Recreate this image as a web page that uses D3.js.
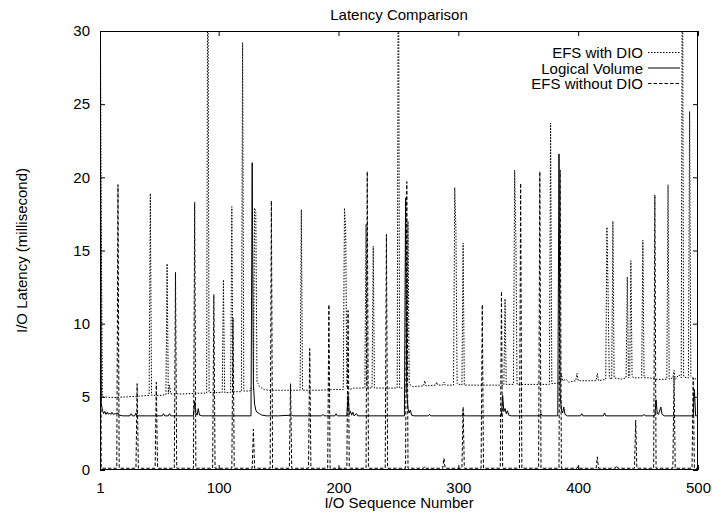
<!DOCTYPE html>
<html>
<head>
<meta charset="utf-8">
<script src="https://cdn.jsdelivr.net/npm/d3@7"></script>
<style>
  body { margin: 0; background: #fff; }
  svg text { font-family: "Liberation Sans", Arial, Helvetica, sans-serif; fill: #000; }
</style>
</head>
<body>
<svg id="chart" width="712" height="512"></svg>
<script>
// Axis ticks
const xTicks = [1, 100, 200, 300, 400, 500];
const yTicks = [0, 5, 10, 15, 20, 25, 30];
const seriesNames = ["EFS with DIO", "Logical Volume", "EFS without DIO"];

// [I/O sequence number, latency in ms] vertices of each trace
const efsWithDio = [
  [1,38],[2,17.4],[3,5.0],[12,4.95],[24,5.0],[34,5.05],[42,5.1],[43,18.9],[44,5.1],[52,5.1],
  [56,5.15],[57,14.1],[58,5.2],[59,5.8],[60,5.2],[72,5.2],[84,5.25],[90,5.25],[91,40],[92,5.3],
  [103,5.3],[104,13.0],[105,5.3],[110,5.3],[111,18.0],[112,5.35],[119,5.35],[120,29.2],[121,5.4],
  [126,5.4],[127,5.6],[129,5.5],[130,17.9],[131,17.6],[132,6.0],[133,5.9],[134,5.7],[136,5.6],
  [138,5.5],[142,5.45],[155,5.45],[168,5.45],[169,17.8],[170,5.45],[185,5.45],[196,5.5],[204,5.5],
  [205,17.9],[206,16.5],[207,5.7],[209,5.5],[213,5.6],[222,5.6],[223,16.8],[224,5.6],[228,5.6],
  [229,15.3],[230,5.6],[240,5.6],[249,5.6],[250,40],[251,5.6],[257,5.6],[258,17.0],[259,6.0],
  [260,5.8],[262,5.7],[271,5.75],[272,6.1],[273,5.75],[281,5.8],[282,6.0],[283,5.8],[287,5.8],
  [288,6.0],[289,5.8],[296,5.8],[297,19.3],[298,16.4],[299,5.9],[303,5.8],[304,15.5],[305,5.8],
  [315,5.8],[325,5.8],[338,5.8],[339,11.7],[340,5.85],[346,5.85],[347,20.5],[348,16.0],[349,5.85],
  [360,5.85],[376,5.85],[377,23.7],[378,5.9],[385,5.95],[386,6.6],[387,6.1],[390,6.2],[392,6.0],
  [398,6.1],[399,6.6],[400,6.1],[408,6.1],[415,6.1],[416,6.6],[417,6.1],[423,6.2],[424,16.6],
  [425,12.0],[426,6.3],[428,6.2],[429,17.0],[430,6.3],[436,6.2],[440,6.3],[441,13.2],[442,6.3],
  [443,6.4],[444,14.3],[445,6.5],[446,6.3],[453,6.3],[454,15.7],[455,6.3],[460,6.3],[465,6.2],
  [470,6.2],[474,6.2],[475,19.5],[476,6.2],[479,6.3],[480,6.8],[481,6.2],[484,6.5],[486,6.3],
  [487,40],[488,6.4],[490,6.3],[492,6.3],[493,24.5],[494,6.4],[497,6.2],[500,6.3]
];

const logicalVolume = [
  [1,35],[2,4.6],[3,4.1],[4,3.85],[5,4.0],[6,3.8],[7,3.95],[8,3.8],[9,3.9],[10,3.8],[11,3.95],
  [12,3.8],[14,3.85],[16,3.9],[17,3.75],[20,3.7],[26,3.7],[27,3.85],[28,3.7],[30,3.7],[31,3.9],
  [32,3.7],[40,3.7],[53,3.7],[54,3.85],[55,3.7],[58,3.7],[59,3.85],[60,3.7],[79,3.7],[80,4.7],
  [81,3.9],[82,3.75],[83,4.2],[84,3.75],[86,3.7],[127,3.7],[128,21.0],[129,5.9],[130,4.5],
  [131,4.1],[132,3.95],[134,3.85],[136,3.75],[140,3.7],[150,3.7],[161,3.75],[162,3.7],[186,3.7],
  [187,3.8],[188,3.7],[197,3.7],[198,3.85],[199,3.7],[207,3.7],[208,5.1],[209,3.8],[210,4.0],
  [211,3.75],[212,3.95],[213,3.7],[215,3.85],[216,3.7],[255,3.7],[256,18.6],[257,5.3],[258,4.2],
  [259,3.9],[260,4.1],[261,3.75],[263,3.7],[275,3.7],[276,3.8],[277,3.7],[303,3.7],[304,3.9],
  [305,3.7],[336,3.7],[337,5.1],[338,4.0],[339,4.2],[340,3.85],[341,4.05],[342,3.75],[344,3.7],
  [368,3.7],[369,3.85],[370,3.7],[383,3.7],[384,21.6],[385,5.2],[386,4.1],[387,3.9],[388,4.3],
  [389,3.8],[391,3.7],[402,3.7],[403,3.85],[404,3.7],[421,3.7],[422,3.9],[423,3.7],[454,3.7],
  [455,3.8],[456,3.7],[464,3.7],[465,4.8],[466,3.9],[467,3.8],[469,4.3],[470,3.8],[472,3.7],
  [496,3.7],[497,5.5],[498,3.7],[500,3.7]
];

const efsWithoutDio = [
  [1,38],[2,0.12],[15,0.12],[16,19.5],[17,0.12],[31,0.12],[32,5.9],[33,0.12],[47,0.12],[48,6.0],
  [49,0.12],[63,0.12],[64,13.5],[65,0.12],[79,0.12],[80,18.3],[81,0.12],[95,0.12],[96,12.0],
  [97,0.12],[111,0.12],[112,10.4],[113,0.12],[128,0.12],[129,2.8],[130,0.12],[143,0.12],[144,18.4],
  [145,0.12],[159,0.12],[160,5.9],[161,0.12],[175,0.12],[176,8.3],[177,0.12],[191,0.12],[192,11.3],
  [193,0.12],[207,0.12],[208,10.9],[209,0.12],[223,0.12],[224,20.4],[225,0.12],[239,0.12],
  [240,16.1],[241,0.12],[256,0.12],[257,19.7],[258,0.12],[271,0.12],[272,0.25],[273,0.12],
  [287,0.12],[288,0.8],[289,0.12],[303,0.12],[304,4.3],[305,0.12],[319,0.12],[320,11.3],[321,0.12],
  [335,0.12],[336,12.2],[337,0.12],[351,0.12],[352,19.6],[353,0.12],[367,0.12],[368,20.4],
  [369,0.12],[384,0.12],[385,20.5],[386,0.12],[399,0.12],[400,0.25],[401,0.12],[415,0.12],
  [416,0.9],[417,0.12],[431,0.12],[432,0.3],[433,0.12],[447,0.12],[448,3.4],[449,0.12],[463,0.12],
  [464,18.8],[465,0.12],[479,0.12],[480,6.4],[481,0.12],[495,0.12],[496,6.3],[497,0.12],[500,0.12]
];

const traces = [
  { name: seriesNames[0], data: efsWithDio, dash: "1.5,1.5", color: "#000" },
  { name: seriesNames[1], data: logicalVolume, dash: null, color: "#000" },
  { name: seriesNames[2], data: efsWithoutDio, dash: "3.5,2", color: "#000" }
];

const svg = d3.select("#chart");
const plot = { left: 100, right: 698, top: 31, bottom: 470 };
const fontSize = 15;

const x = d3.scaleLinear().domain([1, 500]).range([plot.left, plot.right]);
const y = d3.scaleLinear().domain([0, 30]).range([plot.bottom, plot.top]);

svg.append("defs").append("clipPath").attr("id", "plot-clip")
  .append("rect")
  .attr("x", plot.left).attr("y", plot.top)
  .attr("width", plot.right - plot.left).attr("height", plot.bottom - plot.top);

// Traces
const line = d3.line().x(d => x(d[0])).y(d => y(d[1]));
const traceLayer = svg.append("g").attr("clip-path", "url(#plot-clip)");
traces.forEach(t => {
  traceLayer.append("path")
    .datum(t.data)
    .attr("d", line)
    .attr("fill", "none")
    .attr("stroke", t.color)
    .attr("stroke-width", 1)
    .attr("stroke-dasharray", t.dash);
});

// Axes with inward ticks, mirrored on top and right
function styleAxis(g) {
  g.select(".domain").remove();
  g.selectAll(".tick line").attr("stroke", "#000").attr("stroke-width", 1);
  g.selectAll("text").attr("font-size", fontSize)
    .attr("font-family", '"Liberation Sans", Arial, Helvetica, sans-serif').attr("fill", "#000");
}

svg.append("g").attr("transform", `translate(0,${plot.bottom})`)
  .call(d3.axisBottom(x).tickValues(xTicks).tickSize(-5).tickPadding(12).tickFormat(d3.format("d")))
  .call(styleAxis);
svg.append("g").attr("transform", `translate(0,${plot.top})`)
  .call(d3.axisTop(x).tickValues(xTicks).tickSize(-5).tickFormat(""))
  .call(styleAxis);
svg.append("g").attr("transform", `translate(${plot.left},0)`)
  .call(d3.axisLeft(y).tickValues(yTicks).tickSize(-5).tickPadding(10).tickFormat(d3.format("d")))
  .call(styleAxis);
svg.append("g").attr("transform", `translate(${plot.right},0)`)
  .call(d3.axisRight(y).tickValues(yTicks).tickSize(-5).tickFormat(""))
  .call(styleAxis);

// Frame
svg.append("rect")
  .attr("x", plot.left + 0.5).attr("y", plot.top + 0.5)
  .attr("width", plot.right - plot.left - 1).attr("height", plot.bottom - plot.top - 1)
  .attr("fill", "none").attr("stroke", "#000").attr("stroke-width", 1);

// Titles
const cx = (plot.left + plot.right) / 2;
svg.append("text").attr("x", cx).attr("y", 20).attr("text-anchor", "middle")
  .attr("font-size", fontSize).text("Latency Comparison");
svg.append("text").attr("x", cx).attr("y", 508).attr("text-anchor", "middle")
  .attr("font-size", fontSize).text("I/O Sequence Number");
svg.append("text")
  .attr("transform", `translate(27,${(plot.top + plot.bottom) / 2}) rotate(-90)`)
  .attr("text-anchor", "middle").attr("font-size", fontSize)
  .text("I/O Latency (millisecond)");

// Legend
const legend = svg.append("g");
traces.forEach((t, i) => {
  const base = 58 + i * 15.5;
  legend.append("text").attr("x", 643).attr("y", base).attr("text-anchor", "end")
    .attr("font-size", fontSize).text(t.name);
  legend.append("line")
    .attr("x1", 648).attr("x2", 680).attr("y1", base - 5.5).attr("y2", base - 5.5)
    .attr("stroke", t.color).attr("stroke-width", 1).attr("stroke-dasharray", t.dash);
});
</script>
</body>
</html>
